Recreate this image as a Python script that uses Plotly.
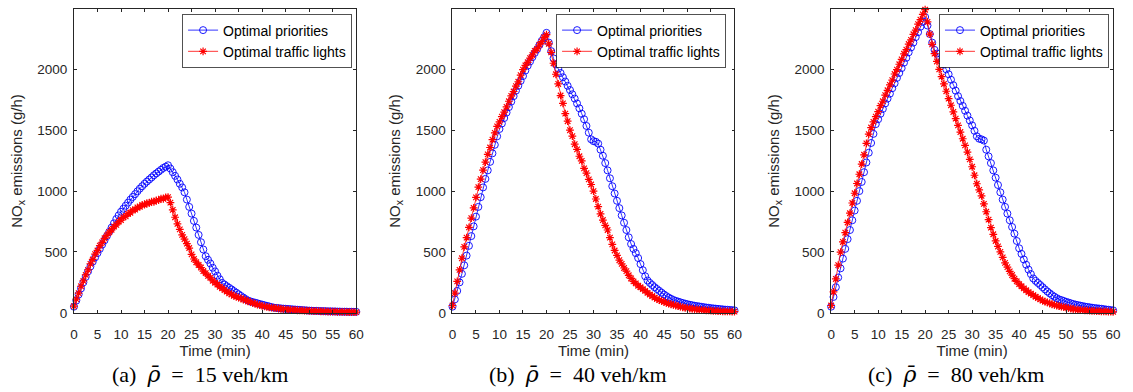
import plotly.graph_objects as go

# Time axis (minutes), sampled every half minute
TIME_MIN = [k / 2 for k in range(121)]

X_TICKS = [0, 5, 10, 15, 20, 25, 30, 35, 40, 45, 50, 55, 60]
Y_TICKS = [0, 500, 1000, 1500, 2000]

SERIES_NAMES = ["Optimal priorities", "Optimal traffic lights"]
PANEL_TAGS = ["(a)", "(b)", "(c)"]
DENSITIES = [15, 40, 80]

# ---- panel (a): rho = 15 veh/km ----
PRIO_15 = [
    50, 100, 150, 200, 250, 295, 340, 380, 420, 455,
    490, 525, 560, 595, 630, 665, 700, 735, 770, 800,
    830, 855, 880, 905, 930, 952, 975, 998, 1020, 1040,
    1060, 1078, 1095, 1112, 1130, 1145, 1160, 1175, 1190, 1200,
    1212, 1185, 1155, 1125, 1095, 1060, 1030, 990, 930, 870,
    815, 755, 700, 640, 580, 520, 465, 435, 405, 370,
    340, 305, 275, 245, 232, 218, 205, 192, 178, 165,
    152, 138, 125, 112, 100, 94, 88, 83, 78, 72,
    67, 62, 57, 52, 47, 42, 40, 38, 36, 34,
    33, 31, 30, 28, 27, 25, 24, 22, 21, 19,
    18, 17, 16, 16, 15, 14, 14, 13, 12, 12,
    11, 11, 10, 10, 9, 9, 9, 8, 8, 8,
    8,
]
LIGHTS_15 = [
    55, 112, 162, 218, 262, 312, 352, 402, 438, 482,
    512, 552, 578, 612, 636, 662, 682, 708, 722, 748,
    762, 784, 792, 815, 822, 843, 848, 866, 870, 886,
    888, 900, 901, 913, 912, 924, 926, 938, 936, 948,
    950, 905, 845, 785, 730, 685, 640, 605, 568, 532,
    480, 442, 415, 393, 372, 343, 326, 303, 287, 263,
    247, 232, 213, 202, 186, 174, 159, 151, 139, 133,
    124, 118, 109, 103, 94, 89, 80, 75, 67, 63,
    57, 53, 49, 45, 42, 40, 38, 35, 32, 30,
    28, 26, 25, 24, 23, 21, 20, 19, 18, 17,
    16, 15, 14, 13, 13, 12, 11, 11, 10, 10,
    9, 9, 8, 8, 7, 7, 6, 6, 6, 5,
    5,
]

# ---- panel (b): rho = 40 veh/km ----
PRIO_40 = [
    50, 110, 180, 250, 320, 390, 470, 550, 630, 710,
    790, 870, 950, 1030, 1100, 1170, 1240, 1310, 1380, 1450,
    1510, 1555, 1600, 1645, 1690, 1735, 1780, 1825, 1865, 1905,
    1945, 1990, 2030, 2065, 2100, 2135, 2165, 2200, 2235, 2265,
    2300, 2220, 2150, 2090, 2040, 2005, 1970, 1935, 1900, 1865,
    1830, 1795, 1760, 1720, 1680, 1635, 1590, 1535, 1480, 1425,
    1410, 1405, 1390, 1340, 1290, 1230, 1170, 1105, 1040, 980,
    920, 860, 800, 740, 680, 620, 565, 525, 490, 450,
    400, 350, 300, 265, 245, 228, 210, 195, 180, 165,
    150, 137, 125, 115, 105, 98, 92, 86, 80, 75,
    70, 66, 62, 58, 55, 52, 49, 46, 43, 41,
    38, 36, 34, 32, 30, 28, 26, 25, 23, 22,
    20,
]
LIGHTS_40 = [
    60, 162, 258, 352, 448, 542, 618, 702, 778, 862,
    948, 1032, 1098, 1172, 1238, 1302, 1358, 1422, 1478, 1532,
    1568, 1612, 1648, 1692, 1738, 1782, 1818, 1862, 1898, 1952,
    1998, 2032, 2058, 2092, 2118, 2152, 2168, 2202, 2228, 2262,
    2285, 2210, 2140, 2050, 1960, 1880, 1785, 1720, 1636, 1574,
    1500, 1452, 1385, 1342, 1286, 1248, 1186, 1148, 1096, 1054,
    1000, 935, 872, 812, 762, 718, 680, 618, 562, 512,
    472, 432, 402, 368, 342, 308, 282, 258, 242, 222,
    210, 194, 180, 163, 150, 138, 125, 114, 105, 97,
    90, 82, 75, 70, 65, 60, 55, 50, 45, 41,
    38, 35, 33, 30, 28, 26, 24, 22, 20, 19,
    18, 16, 15, 14, 13, 12, 12, 11, 11, 10,
    10,
]

# ---- panel (c): rho = 80 veh/km ----
PRIO_80 = [
    50, 130, 210, 290, 365, 445, 525, 605, 680, 760,
    840, 920, 1000, 1075, 1155, 1235, 1315, 1395, 1470, 1550,
    1590, 1635, 1675, 1720, 1760, 1800, 1845, 1885, 1930, 1970,
    2010, 2055, 2095, 2140, 2180, 2220, 2265, 2305, 2350, 2390,
    2430, 2360, 2290, 2220, 2160, 2130, 2100, 2070, 2040, 2000,
    1960, 1915, 1870, 1825, 1780, 1740, 1700, 1660, 1620, 1580,
    1540, 1495, 1450, 1430, 1425, 1415, 1340, 1285, 1230, 1170,
    1110, 1050, 990, 930, 870, 815, 760, 705, 650, 590,
    530, 484, 438, 395, 355, 318, 282, 262, 245, 228,
    210, 192, 175, 160, 145, 132, 120, 110, 104, 97,
    90, 84, 78, 72, 67, 63, 59, 55, 51, 48,
    45, 42, 39, 37, 35, 33, 30, 27, 25, 22,
    20,
]
LIGHTS_80 = [
    60, 172, 278, 392, 498, 582, 658, 742, 818, 902,
    982, 1062, 1138, 1222, 1298, 1392, 1468, 1522, 1568, 1612,
    1652, 1702, 1738, 1788, 1828, 1872, 1912, 1962, 1998, 2042,
    2082, 2128, 2162, 2208, 2242, 2288, 2322, 2372, 2408, 2452,
    2490, 2390, 2290, 2205, 2130, 2065, 2000, 1940, 1880, 1820,
    1760, 1705, 1650, 1595, 1540, 1485, 1430, 1375, 1320, 1260,
    1200, 1130, 1060, 1010, 960, 895, 830, 765, 700, 645,
    590, 545, 500, 455, 410, 375, 340, 310, 280, 258,
    235, 218, 200, 185, 170, 157, 145, 132, 120, 110,
    100, 92, 85, 77, 70, 65, 60, 55, 50, 46,
    42, 38, 35, 31, 28, 26, 24, 22, 20, 19,
    18, 16, 15, 14, 13, 12, 12, 11, 10, 9,
    8,
]

PANELS = [(PRIO_15, LIGHTS_15), (PRIO_40, LIGHTS_40), (PRIO_80, LIGHTS_80)]
for p, l in PANELS:
    assert len(p) == len(TIME_MIN) and len(l) == len(TIME_MIN)

# ---------------- layout geometry (pixels of a 1133 x 392 page) ----------------
W, H = 1133, 392
AX_LEFT = [70.7, 453.3, 836.0]
AX_RIGHT = [356.0, 738.3, 1121.0]
AX_TOP, AX_BOTTOM = 9.3, 319.3
LEG_RIGHT = [352.0, 730.0, 1117.0]
LEG_TOP = 14.0
CAPTION_X = [198.0, 580.0, 962.0]
CAPTION_Y = 382.0
Y_MAX = 2495

AXIS_COLOR = "#262626"
SANS = "Liberation Sans, Arial, Helvetica, sans-serif"
SERIF = "Liberation Serif, Times New Roman, serif"
NB = "\u00a0"


def caption(tag, dens):
    rho_bar = '<span style="font-family:\'DejaVu Serif\'"><i>\u03c1\u0304</i></span>'
    return f"{tag}{NB * 2}{rho_bar}{NB * 2}={NB * 2}{dens}{NB}veh/km"


fig = go.Figure()

legend_keys = ["legend", "legend2", "legend3"]
for i, (prio, lights) in enumerate(PANELS):
    xa = "x" if i == 0 else f"x{i + 1}"
    ya = "y" if i == 0 else f"y{i + 1}"
    fig.add_trace(go.Scatter(
        x=TIME_MIN, y=prio, name=SERIES_NAMES[0], mode="lines+markers",
        line=dict(color="#0000FF", width=0.8),
        marker=dict(symbol="circle-open", size=7, color="#0000FF",
                    line=dict(width=0.9, color="#0000FF")),
        xaxis=xa, yaxis=ya, legend=legend_keys[i], cliponaxis=False,
    ))
    fig.add_trace(go.Scatter(
        x=TIME_MIN, y=lights, name=SERIES_NAMES[1], mode="lines+markers",
        line=dict(color="#FF0000", width=0.8),
        marker=dict(symbol="asterisk-open", size=6.5, color="#FF0000",
                    line=dict(width=1.2, color="#FF0000")),
        xaxis=xa, yaxis=ya, legend=legend_keys[i], cliponaxis=False,
    ))

layout = dict(
    width=W, height=H,
    margin=dict(l=0, r=0, t=0, b=0, pad=0),
    paper_bgcolor="white", plot_bgcolor="white",
    showlegend=True,
    font=dict(family=SANS, color=AXIS_COLOR, size=13.5),
    annotations=[],
)

for i in range(3):
    xk = "xaxis" if i == 0 else f"xaxis{i + 1}"
    yk = "yaxis" if i == 0 else f"yaxis{i + 1}"
    anchor_x = "y" if i == 0 else f"y{i + 1}"
    anchor_y = "x" if i == 0 else f"x{i + 1}"
    layout[xk] = dict(
        domain=[AX_LEFT[i] / W, AX_RIGHT[i] / W], anchor=anchor_x,
        range=[0, 60], tickvals=X_TICKS, ticktext=[str(v) for v in X_TICKS],
        ticks="inside", ticklen=3, tickwidth=0.8, tickcolor=AXIS_COLOR,
        showline=True, linecolor=AXIS_COLOR, linewidth=0.8, mirror="ticks",
        showgrid=False, zeroline=False, ticklabelstandoff=9,
        tickfont=dict(family=SANS, size=13.5, color=AXIS_COLOR),
        title=dict(text="Time (min)", font=dict(family=SANS, size=15, color=AXIS_COLOR), standoff=1),
    )
    layout[yk] = dict(
        domain=[1 - AX_BOTTOM / H, 1 - AX_TOP / H], anchor=anchor_y,
        range=[0, Y_MAX], tickvals=Y_TICKS, ticktext=[str(v) for v in Y_TICKS],
        ticks="inside", ticklen=3, tickwidth=0.8, tickcolor=AXIS_COLOR,
        showline=True, linecolor=AXIS_COLOR, linewidth=0.8, mirror="ticks",
        showgrid=False, zeroline=False, ticklabelstandoff=3,
        tickfont=dict(family=SANS, size=13.5, color=AXIS_COLOR),
        title=dict(text="NO<sub>x</sub> emissions (g/h)",
                   font=dict(family=SANS, size=15, color=AXIS_COLOR), standoff=11),
    )
    layout[legend_keys[i]] = dict(
        x=LEG_RIGHT[i] / W, y=1 - LEG_TOP / H, xanchor="right", yanchor="top",
        bgcolor="white", bordercolor=AXIS_COLOR, borderwidth=0.8,
        font=dict(family=SANS, size=14, color="black"),
        tracegroupgap=0, itemwidth=30,
    )
    layout["annotations"].append(dict(
        text=caption(PANEL_TAGS[i], DENSITIES[i]), xref="paper", yref="paper",
        x=CAPTION_X[i] / W, y=1 - CAPTION_Y / H,
        xanchor="center", yanchor="middle", showarrow=False,
        font=dict(family=SERIF, size=22, color="black"),
    ))

fig.update_layout(**layout)
fig.write_html("out.html")
